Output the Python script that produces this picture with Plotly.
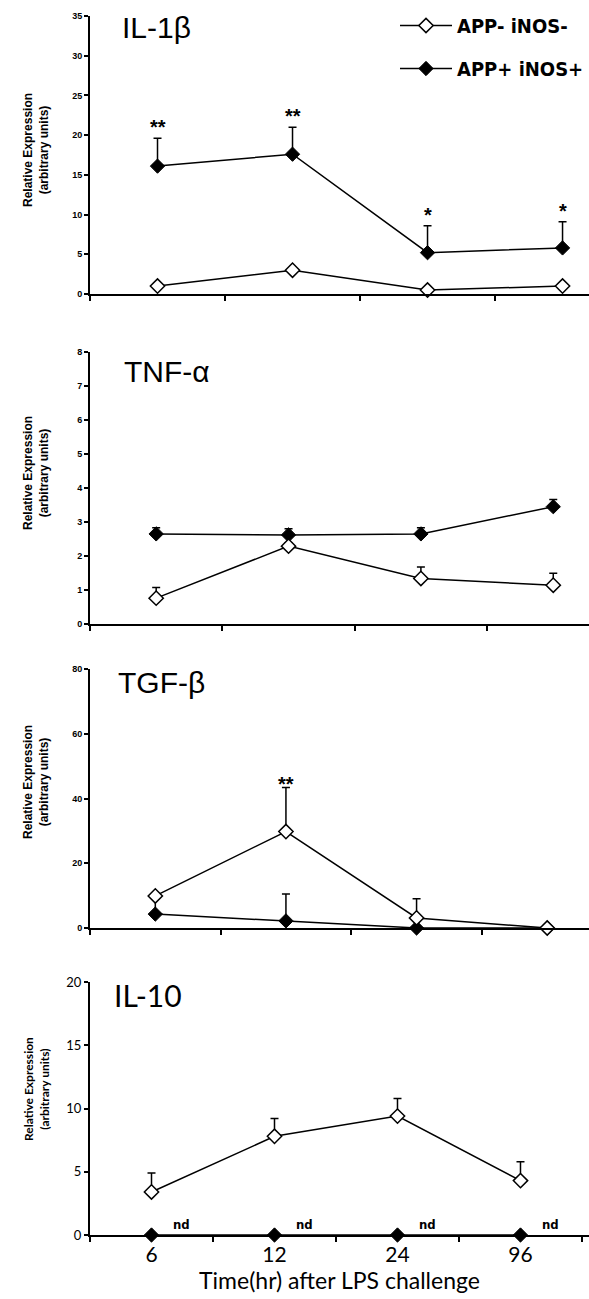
import plotly.graph_objects as go

# ---------------- data ----------------
time_labels = ["6", "12", "24", "96"]
xpos = [0, 1, 2, 3]

il1b_neg = [1.0, 3.0, 0.5, 1.0]
il1b_neg_err = [0, 0, 0, 0]
il1b_pos = [16.1, 17.6, 5.2, 5.8]
il1b_pos_err = [3.5, 3.4, 3.4, 3.3]
il1b_sig = ["**", "**", "*", "*"]

tnf_neg = [0.76, 2.29, 1.34, 1.14]
tnf_neg_err = [0.31, 0.1, 0.34, 0.35]
tnf_pos = [2.65, 2.62, 2.65, 3.45]
tnf_pos_err = [0.18, 0.18, 0.18, 0.21]

tgf_neg = [9.9, 29.8, 3.1, 0.0]
tgf_neg_err = [0, 13.6, 5.9, 0]
tgf_neg_sig = ["", "**", "", ""]
tgf_pos = [4.3, 2.2, 0.0, 0.0]
tgf_pos_err = [4.8, 8.3, 0, 0]

il10_neg = [3.4, 7.8, 9.4, 4.3]
il10_neg_err = [1.5, 1.4, 1.4, 1.5]
il10_pos = [0, 0, 0, 0]
il10_pos_note = ["nd", "nd", "nd", "nd"]

panel_names = ["IL-1β", "TNF-α", "TGF-β", "IL-10"]
series_names = ["APP- iNOS-", "APP+ iNOS+"]

# ---------------- styling ----------------
ARIAL = "Liberation Sans, Arial, sans-serif"
NARROW = "DejaVu Sans Condensed, Liberation Sans Narrow, Arial Narrow, sans-serif"
CAL = "Lato, Carlito, Calibri, sans-serif"
H = 1299.0
W = 589.0

def yd(top_px, bot_px):
    return [1 - bot_px / H, 1 - top_px / H]

panels = [
    dict(neg=il1b_neg, neg_err=il1b_neg_err, pos=il1b_pos, pos_err=il1b_pos_err,
         yrange=[0, 35], dtick=5, dom=yd(16, 294), xr=[-0.5, 3.196], title_x=120, title_y=27,
         title_font=ARIAL, tick_font=dict(family=ARIAL, size=9, weight="bold"), ylab_y=150),
    dict(neg=tnf_neg, neg_err=tnf_neg_err, pos=tnf_pos, pos_err=tnf_pos_err,
         yrange=[0, 8], dtick=1, dom=yd(352, 624), xr=[-0.5, 3.27], title_x=122, title_y=372,
         title_font=ARIAL, tick_font=dict(family=ARIAL, size=9, weight="bold"), ylab_y=473),
    dict(neg=tgf_neg, neg_err=tgf_neg_err, pos=tgf_pos, pos_err=tgf_pos_err,
         yrange=[0, 80], dtick=20, dom=yd(669, 928), xr=[-0.5, 3.32], title_x=116, title_y=682,
         title_font=ARIAL, tick_font=dict(family=ARIAL, size=9, weight="bold"), ylab_y=782),
    dict(neg=il10_neg, neg_err=il10_neg_err, pos=il10_pos, pos_err=[0, 0, 0, 0],
         yrange=[0, 20], dtick=5, dom=yd(982, 1235), xr=[-0.5, 3.557], title_x=112, title_y=995,
         title_font=CAL, tick_font=dict(family=CAL, size=13), ylab_y=1089),
]

fig = go.Figure()
layout = dict(
    width=589, height=1299, plot_bgcolor="white", paper_bgcolor="white",
    margin=dict(l=0, r=0, t=0, b=0, autoexpand=False),
    showlegend=True,
    legend=dict(x=1.0, y=1 - 6 / H, xanchor="right", yanchor="top",
                font=dict(family=NARROW, size=20, color="black", weight="bold"),
                bgcolor="rgba(0,0,0,0)", itemwidth=52, tracegroupgap=14,
                traceorder="grouped"),
)
annotations = []

for i, p in enumerate(panels):
    n = "" if i == 0 else str(i + 1)
    xa, ya = "x" + n, "y" + n
    # APP+ (filled) first so that open markers sit on top
    fig.add_trace(go.Scatter(
        x=xpos, y=p["pos"], xaxis=xa, yaxis=ya, mode="lines+markers",
        name=series_names[1], legendgroup="b", legendrank=2, showlegend=(i == 0),
        line=dict(color="black", width=1.5),
        marker=dict(symbol="diamond", size=11, color="black", line=dict(color="black", width=1)),
        error_y=dict(type="data", array=p["pos_err"], arrayminus=[0] * 4, symmetric=False,
                     color="black", thickness=1.5, width=4),
        cliponaxis=False))
    fig.add_trace(go.Scatter(
        x=xpos, y=p["neg"], xaxis=xa, yaxis=ya, mode="lines+markers",
        name=series_names[0], legendgroup="a", legendrank=1, showlegend=(i == 0),
        line=dict(color="black", width=1.5),
        marker=dict(symbol="diamond", size=11, color="white", line=dict(color="black", width=1.5)),
        error_y=dict(type="data", array=p["neg_err"], arrayminus=[0] * 4, symmetric=False,
                     color="black", thickness=1.5, width=4),
        cliponaxis=False))

    last = (i == 3)
    layout["xaxis" + n] = dict(
        domain=[90 / W, 1], anchor=ya, range=p["xr"], showline=True, linecolor="black",
        linewidth=2, showgrid=False, zeroline=False, automargin=False,
        tickmode="array", tickvals=xpos, ticktext=time_labels, ticks="",
        showticklabels=last,
        tickfont=dict(family=CAL, size=21, color="black"),
        minor=dict(tickmode="array", tickvals=[-0.5, 0.5, 1.5, 2.5, 3.5], ticks="outside",
                   ticklen=5, tickwidth=1.5, tickcolor="black"),
    )
    if last:
        layout["xaxis" + n]["title"] = dict(text="Time(hr) after LPS challenge",
                                            font=dict(family=CAL, size=23, color="black"),
                                            standoff=2)
    layout["yaxis" + n] = dict(
        domain=p["dom"], anchor=xa, range=p["yrange"], dtick=p["dtick"], tick0=0,
        showline=True, linecolor="black", linewidth=2, showgrid=False, zeroline=False,
        automargin=False,
        ticks="outside", ticklen=4, tickwidth=1.5, tickcolor="black",
        tickfont=dict(color="black", **p["tick_font"]),
    )
    # panel title
    annotations.append(dict(text=panel_names[i], x=p["title_x"] / W, y=1 - p["title_y"] / H,
                            xref="paper", yref="paper", xanchor="left", yanchor="middle",
                            showarrow=False, font=dict(family=p["title_font"], size=30, color="black")))
    # y-axis title
    annotations.append(dict(text="Relative Expression<br>(arbitrary units)", x=36 / W,
                            y=1 - p["ylab_y"] / H, xref="paper", yref="paper",
                            xanchor="center", yanchor="middle", textangle=-90, showarrow=False,
                            font=dict(family=(CAL if last else ARIAL), size=12, color="black",
                                      weight="bold")))

# significance marks
for j in range(4):
    annotations.append(dict(text=il1b_sig[j], x=xpos[j], y=il1b_pos[j] + il1b_pos_err[j],
                            xref="x", yref="y", yanchor="bottom", showarrow=False, yshift=-2,
                            font=dict(family=ARIAL, size=20, color="black", weight="bold")))
    if tgf_neg_sig[j]:
        annotations.append(dict(text=tgf_neg_sig[j], x=xpos[j], y=tgf_neg[j] + tgf_neg_err[j],
                                xref="x3", yref="y3", yanchor="bottom", showarrow=False, yshift=-10,
                                font=dict(family=ARIAL, size=20, color="black", weight="bold")))
    annotations.append(dict(text=il10_pos_note[j], x=xpos[j], y=il10_pos[j], xref="x4", yref="y4",
                            xshift=30, yshift=11, showarrow=False,
                            font=dict(family=NARROW, size=13, color="black", weight="bold")))

layout["annotations"] = annotations
fig.update_layout(**layout)
fig.write_html("out.html", config={"displayModeBar": False},
               post_script="document.body.style.margin='0';document.body.style.overflow='hidden';")
